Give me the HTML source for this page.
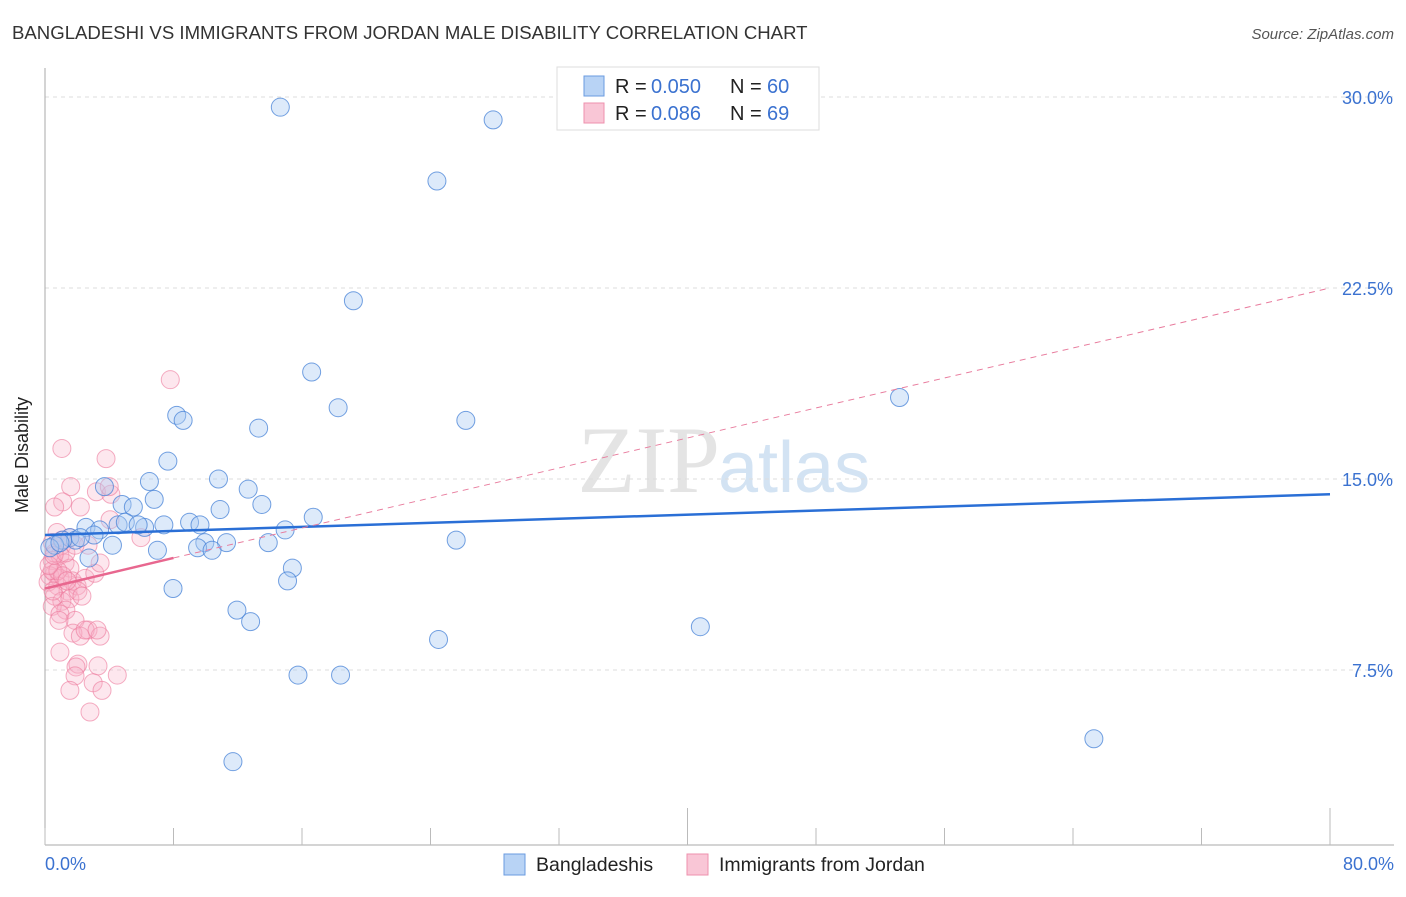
<!DOCTYPE html>
<html><head><meta charset="utf-8"><style>
body{margin:0;background:#fff;font-family:"Liberation Sans",sans-serif}
</style></head><body>
<svg width="1406" height="892" xmlns="http://www.w3.org/2000/svg">
<text x="12" y="39" font-size="18.6" fill="#333">BANGLADESHI VS IMMIGRANTS FROM JORDAN MALE DISABILITY CORRELATION CHART</text>
<text x="1394" y="39" font-size="15" fill="#555" text-anchor="end" font-style="italic">Source: ZipAtlas.com</text>
<text x="720" y="492" font-size="95" fill="#e4e4e4" text-anchor="end" font-family="Liberation Serif">ZIP</text>
<text x="718" y="492" font-size="72" fill="#d3e3f3">atlas</text>
<g id="grid"></g>
<line x1="45" y1="68" x2="45" y2="845" stroke="#aaa"/>
<line x1="45" y1="845" x2="1394" y2="845" stroke="#aaa"/>
<g id="xticks"></g>
<text x="28" y="455" font-size="18" fill="#222" transform="rotate(-90 28 455)" text-anchor="middle">Male Disability</text>
<text x="45" y="870" font-size="18" fill="#3b72d0">0.0%</text>
<text x="1394" y="870" font-size="18" fill="#3b72d0" text-anchor="end">80.0%</text>
<g id="pts"></g>
<g id="trends"></g>
<g>
<rect x="557" y="67" width="262" height="63" fill="#fff" stroke="#ddd"/>
<rect x="584" y="76" width="20" height="20" fill="#b8d3f5" stroke="#6a9be0"/>
<rect x="584" y="103" width="20" height="20" fill="#f9c6d6" stroke="#ee90ad"/>
<text x="615" y="93" font-size="20" fill="#222">R =</text>
<text x="651" y="93" font-size="20" fill="#3b72d0">0.050</text>
<text x="730" y="93" font-size="20" fill="#222">N =</text>
<text x="767" y="93" font-size="20" fill="#3b72d0">60</text>
<text x="615" y="120" font-size="20" fill="#222">R =</text>
<text x="651" y="120" font-size="20" fill="#3b72d0">0.086</text>
<text x="730" y="120" font-size="20" fill="#222">N =</text>
<text x="767" y="120" font-size="20" fill="#3b72d0">69</text>
</g>
<g>
<rect x="504" y="854" width="21" height="21" fill="#b8d3f5" stroke="#6a9be0"/>
<text x="536" y="871" font-size="19.5" fill="#222">Bangladeshis</text>
<rect x="687" y="854" width="21" height="21" fill="#f9c6d6" stroke="#ee90ad"/>
<text x="719" y="871" font-size="19.5" fill="#222">Immigrants from Jordan</text>
</g>
</svg>
<script>
const yTicks=[7.5,15,22.5,30];
const xTicks=[0,8,16,24,32,40,48,56,64,72,80];
const blueX=[14.65,27.9,24.4,19.2,16.6,18.25,53.2,8.2,8.6,26.2,13.3,7.65,10.8,6.5,12.65,3.7,6.8,13.5,4.8,5.5,10.9,16.7,2.55,9.0,7.4,6.2,9.65,4.55,3.4,14.95,5.0,3.05,1.55,1.9,1.1,0.6,4.2,9.95,11.3,13.9,25.6,7.0,9.5,10.4,2.74,15.4,15.1,7.97,11.95,12.8,40.8,24.5,15.75,18.4,65.3,11.7,0.3,0.93,2.2,5.8];
const blueY=[29.6,29.1,26.7,22.0,19.2,17.8,18.2,17.5,17.3,17.3,17.0,15.7,15.0,14.9,14.6,14.7,14.2,14.0,14.0,13.9,13.8,13.5,13.1,13.3,13.2,13.1,13.2,13.2,13.0,13.0,13.3,12.8,12.7,12.6,12.6,12.4,12.4,12.5,12.5,12.5,12.6,12.2,12.3,12.2,11.9,11.5,11.0,10.7,9.85,9.4,9.2,8.7,7.3,7.3,4.8,3.9,12.3,12.5,12.7,13.2];
const pinkX=[1.05,7.8,3.8,1.6,1.1,3.2,4.1,4.0,2.2,0.6,5.97,0.75,1.55,0.45,1.05,0.6,0.93,0.45,1.25,1.55,0.6,0.3,0.93,1.7,0.19,0.8,1.43,2.0,2.5,0.6,1.05,1.55,2.05,0.45,1.3,0.93,1.87,2.68,1.74,2.2,2.5,3.43,3.24,0.93,2.05,3.3,4.5,1.93,1.87,3.0,3.55,1.55,2.8,0.45,0.8,0.5,1.1,0.25,0.56,1.3,1.05,2.3,3.1,3.43,2.68,1.87,1.37,0.87,4.05];
const pinkY=[16.2,18.9,15.8,14.7,14.1,14.5,14.4,14.7,13.9,13.9,12.7,12.9,12.7,12.5,12.4,12.1,12.0,11.8,11.7,11.5,11.3,11.2,11.1,11.0,10.95,10.8,10.6,10.8,11.1,10.4,10.2,10.3,10.6,10.0,9.85,9.7,9.45,9.07,8.95,8.83,9.07,8.83,9.07,8.2,7.73,7.66,7.3,7.62,7.27,7.0,6.7,6.7,5.85,11.4,11.4,10.6,11.2,11.6,12.0,12.1,12.6,10.4,11.3,11.7,12.4,12.4,11.0,9.45,13.4];
const blueTrend=[[0,12.8],[80,14.4]];
const pinkTrend=[[0,10.7],[8,11.9],[80,22.5]];
const X=v=>45+v/80*1285, Y=v=>861-v*191/7.5;
const ns="http://www.w3.org/2000/svg";
function mk(t,a,p){const e=document.createElementNS(ns,t);for(const k in a)e.setAttribute(k,a[k]);p.appendChild(e);return e;}
const g=document.getElementById('grid');
yTicks.forEach(v=>{const l=mk('line',{x1:45,x2:1394,y1:Y(v),y2:Y(v),stroke:'#ddd','stroke-dasharray':'4,4'},g);


const t=mk('text',{x:1393,y:Y(v)+7,'font-size':18,fill:'#3b72d0','text-anchor':'end'},g);t.textContent=v.toFixed(1)+'%';

});
const xt=document.getElementById('xticks');
xTicks.forEach((v,i)=>{const big=(v===40||v===80);const l=mk('line',{x1:X(v),x2:X(v),y1:big?808:828,y2:845,stroke:'#bbb'},xt);

});
const p=document.getElementById('pts');
pinkX.forEach((v,i)=>{const c=mk('circle',{cx:X(v),cy:Y(pinkY[i]),r:9,fill:'rgba(248,175,198,0.3)',stroke:'rgba(236,120,155,0.6)','stroke-width':1},p);

});
blueX.forEach((v,i)=>{const c=mk('circle',{cx:X(v),cy:Y(blueY[i]),r:9,fill:'rgba(170,202,242,0.4)',stroke:'rgba(70,130,215,0.75)','stroke-width':1},p);

});
const tr=document.getElementById('trends');
const bl=mk('line',{x1:X(blueTrend[0][0]),y1:Y(blueTrend[0][1]),x2:X(blueTrend[1][0]),y2:Y(blueTrend[1][1]),stroke:'#2a6fd6','stroke-width':2.5},tr);


const pd=mk('line',{x1:X(pinkTrend[1][0]),y1:Y(pinkTrend[1][1]),x2:X(pinkTrend[2][0]),y2:Y(pinkTrend[2][1]),stroke:'#e87a9c','stroke-width':1,'stroke-dasharray':'6,5'},tr);


const ps=mk('line',{x1:X(pinkTrend[0][0]),y1:Y(pinkTrend[0][1]),x2:X(pinkTrend[1][0]),y2:Y(pinkTrend[1][1]),stroke:'#e8678f','stroke-width':2.5},tr);


</script>
</body></html>
